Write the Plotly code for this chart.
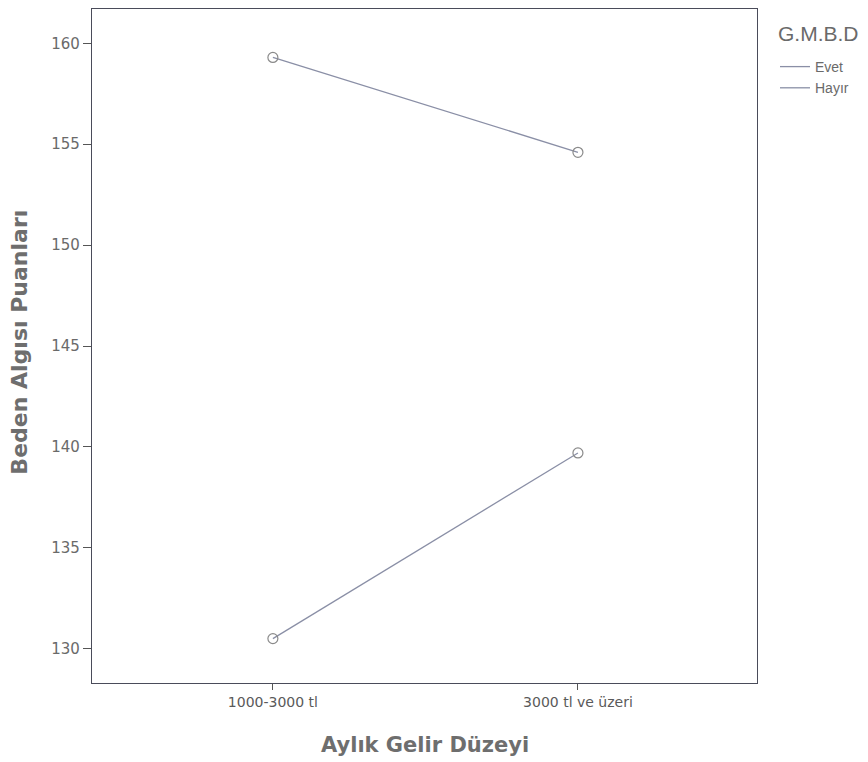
import plotly.graph_objects as go

categories = ["1000-3000 tl", "3000 tl ve üzeri"]
evet = [159.3, 154.6]
hayir = [130.5, 139.7]
y_ticks = [130, 135, 140, 145, 150, 155, 160]
series = [("Evet", evet), ("Hayır", hayir)]
legend_title = "G.M.B.D"

line_color = "#8a8fa6"
fig = go.Figure()
for name, vals in series:
    fig.add_trace(go.Scatter(
        x=[0, 1], y=vals, name=name, mode="lines+markers", showlegend=False,
        line=dict(color=line_color, width=1.3),
        marker=dict(symbol="circle-open", size=10, color="#8a8a8a", line=dict(width=1.2)),
    ))
for name, _ in series:
    fig.add_trace(go.Scatter(
        x=[None], y=[None], name=name, mode="lines",
        line=dict(color=line_color, width=1.3),
    ))

W, H = 860, 754
ml, mr, mt, mb = 84, 111, 1, 79
pw, ph = W - ml - mr, H - mt - mb

fig.update_layout(
    width=W, height=H,
    paper_bgcolor="white", plot_bgcolor="white",
    margin=dict(l=ml, r=mr, t=mt, b=mb),
    font=dict(family="DejaVu Sans, sans-serif", color="#555555"),
    legend=dict(
        x=1 + 18 / pw, y=1 - 42 / ph, xanchor="left", yanchor="top",
        font=dict(family="Liberation Sans, Arial, sans-serif", size=14, color="#6a6a6a"),
        itemwidth=30, tracegroupgap=0, bgcolor="rgba(0,0,0,0)",
    ),
    annotations=[
        dict(text=legend_title, xref="paper", yref="paper",
             x=1 + 19 / pw, y=1 - 24 / ph, xanchor="left", yanchor="middle",
             showarrow=False,
             font=dict(family="Liberation Sans, Arial, sans-serif", size=21, color="#6a6a6a")),
        dict(text="<b>Beden Algısı Puanları</b>", xref="paper", yref="paper",
             x=(12 - ml) / pw, y=0.505, xanchor="center", yanchor="middle",
             textangle=-90, showarrow=False,
             font=dict(family="DejaVu Sans, sans-serif", size=22, color="#6e6e6e")),
        dict(text="<b>Aylık Gelir Düzeyi</b>", xref="paper", yref="paper",
             x=0.5, y=-(62 / ph), xanchor="center", yanchor="middle",
             showarrow=False,
             font=dict(family="DejaVu Sans, sans-serif", size=21, color="#6e6e6e")),
    ],
)
fig.update_xaxes(
    range=[-0.593, 1.587], tickvals=[0, 1], ticktext=categories,
    ticks="outside", ticklen=6, tickcolor="#555555",
    showline=True, linecolor="#4a4c5a", linewidth=1.2, mirror=True,
    showgrid=False, zeroline=False,
    tickfont=dict(size=14, color="#5a5a5a"),
)
fig.update_yaxes(
    range=[128.3, 161.7], tickvals=y_ticks,
    ticks="outside", ticklen=8, tickcolor="#555555",
    showline=True, linecolor="#4a4c5a", linewidth=1.2, mirror=True,
    showgrid=False, zeroline=False,
    tickfont=dict(size=15, color="#6a6a6a"),
)
fig.write_html("out.html")
